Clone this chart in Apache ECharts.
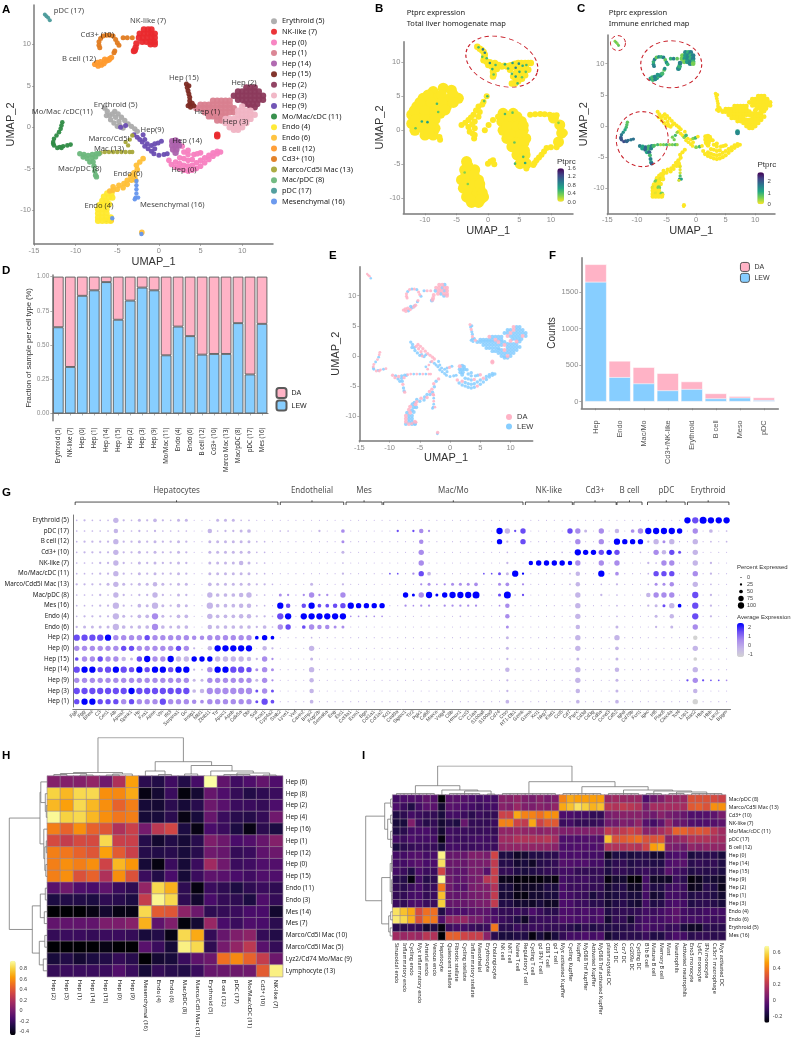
<!DOCTYPE html>
<html>
<head>
<meta charset="utf-8">
<title>Liver UMAP panels</title>
<script src="https://cdn.jsdelivr.net/npm/echarts@6/dist/echarts.min.js"></script>
<style>
  html, body { margin: 0; padding: 0; background: #fff; }
  #chart { width: 791px; height: 1043px; }
</style>
</head>
<body>
<div id="chart"></div>
<script>
const FONT = '"Noto Sans", sans-serif'
const HEAD = '"Liberation Sans", sans-serif'

// cell types, same order in the A legend and on the D axis
const clusterNames = ['Erythroid (5)', 'NK-like (7)', 'Hep (0)', 'Hep (1)', 'Hep (14)', 'Hep (15)', 'Hep (2)', 'Hep (3)', 'Hep (9)', 'Mo/Mac/cDC (11)', 'Endo (4)', 'Endo (6)', 'B cell (12)', 'Cd3+ (10)', 'Marco/Cd5l Mac (13)', 'Mac/pDC (8)', 'pDC (17)', 'Mesenchymal (16)']
const clusterColors = ['#ababab', '#ea2a2e', '#f77fc0', '#d9808f', '#ad62ad', '#7c2a22', '#8c3a5c', '#f0b4c4', '#6a4db2', '#2e8b45', '#ffe92e', '#ffc038', '#ff9a2e', '#e07b20', '#a8a83a', '#6cb77c', '#4a9a9a', '#6495ed']
const clusterDotPx = [5.4, 6.4, 5.6, 6.4, 6.4, 5, 6.4, 6.4, 5, 4.6, 6.4, 5.6, 5.6, 5, 4.4, 5.4, 4, 4.4]

// UMAP cell positions
const ptsErythroid = [[-6.5,2.3],[-6.2,1.9],[-6.3,1.4],[-5.9,1.4],[-5.8,0.9],[-5.4,0.5],[-5,0.1],[-4.7,0.2],[-4.3,-0.1],[-5.3,1.9],[-4.9,1.6],[-4.5,1.2],[-4.1,0.8],[-3.7,0.4],[-3.3,0.1],[-2.9,-0.2],[-2.6,-0.5],[-5.6,1.6],[-5.2,1.2],[-4.8,0.7]]
const ptsNK = [[-1.8,11.8],[-1.3,11.8],[-0.9,11.8],[-2.3,11.3],[-1.8,11.3],[-1.3,11.3],[-0.9,11.3],[-0.5,11.3],[-2.4,10.8],[-1.9,10.8],[-1.4,10.8],[-0.9,10.8],[-0.5,10.8],[-2,10.3],[-1.5,10.3],[-1,10.3],[-0.5,10.3],[-1,10],[-0.5,10],[-2.9,9.3],[-3,9.2],[-2.8,9.6],[-2.7,10.1],[-5.8,-11.2],[7,-0.9],[7,-1.1]]
const ptsHep0 = [[1.2,-4],[1.5,-4.5],[2,-4.8],[2.5,-5],[3,-5.2],[3.5,-5.3],[4,-5.2],[4.5,-5],[5,-4.7],[5.5,-4.3],[6,-3.9],[6.5,-3.5],[7,-3.2],[7.4,-3],[2,-4.2],[2.5,-4.4],[3,-4.6],[3.5,-4.7],[4,-4.6],[4.5,-4.3],[5,-4],[5.5,-3.7],[6,-3.4],[6.5,-3.1],[7,-2.9],[2.5,-3.7],[3,-3.8],[3.5,-4],[4,-3.9],[3,-3],[3.5,-2.8],[2.8,-2.3],[3.5,-3.3],[4.2,-3.3],[4.6,-3.2],[5,-3.1]]
const ptsHep1 = [[6.5,3.2],[7,3.2],[7.5,3.2],[8,3.2],[8.5,3.2],[5,2.7],[5.5,2.7],[6,2.7],[6.5,2.7],[7,2.7],[7.5,2.7],[8,2.7],[8.5,2.7],[4.5,2.3],[5,2.3],[5.5,2.3],[6,2.3],[6.5,2.3],[7,2.3],[7.5,2.3],[8,2.3],[8.5,2.3],[9,2.3],[5.5,1.8],[6,1.8],[6.5,1.8],[7,1.8],[7.5,1.8],[8,1.8],[8.5,1.8],[9,1.8],[6,1.3],[6.5,1.3],[7,1.3],[7.5,1.3],[8,1.3],[7,0.8],[7.5,0.8]]
const ptsHep14 = [[1.6,-1.7],[2,-1.6],[2.3,-1.8],[1.6,-2.2],[2,-2.2],[2.4,-2.2],[1.7,-2.7],[2.1,-2.7],[2,-3.1]]
const ptsHep15 = [[3.3,5.2],[3.6,5],[3.4,4.8],[3.5,4.4],[3.6,4],[3.7,3.6],[3.7,3.2],[3.7,2.8],[3.8,2.4],[4.2,2.6],[3.5,2.6],[4,2.9]]
const ptsHep2 = [[10.5,4.8],[11,4.8],[11.5,4.8],[9.5,4.3],[10,4.3],[10.5,4.3],[11,4.3],[11.5,4.3],[12,4.3],[9,3.8],[9.5,3.8],[10,3.8],[10.5,3.8],[11,3.8],[11.5,3.8],[12,3.8],[12.5,3.8],[9.5,3.3],[10,3.3],[10.5,3.3],[11,3.3],[11.5,3.3],[12,3.3],[12.5,3.3],[10.3,2.8],[10.8,2.8],[11.3,2.8],[11.8,2.8],[11,2.4],[11.5,2.4]]
const ptsHep3 = [[10,2.5],[9.5,2],[10,2],[10.5,2],[11,2],[9.5,1.5],[10,1.5],[10.5,1.5],[11,1.5],[11.5,1.5],[8,1],[8.5,1],[9,1],[9.5,1],[10,1],[10.5,1],[11,1],[8,0.5],[8.5,0.5],[9,0.5],[9.5,0.5],[10,0.5],[10.5,0.5],[8.5,0],[9,0],[9.5,0],[10,0],[9,-0.3],[9.5,-0.3]]
const ptsHep9 = [[-3,-0.9],[-2.6,-1.2],[-2.3,-1.5],[-2,-1.8],[-1.7,-1.5],[-1.4,-2],[-1.7,-2.3],[-1.3,-2.6],[-0.9,-2.2],[-0.5,-2],[-0.1,-1.9],[0.3,-1.7],[-0.9,-2.9],[-0.5,-2.6],[-0.6,-3.2],[0,-3.4],[0.6,-3.3],[1,-3.2],[-1.9,-0.9],[-4,0.2],[-4.6,0]]
const ptsMoMac = [[-11.6,0.6],[-11.7,0.2],[-11.8,-0.2],[-12,-0.6],[-12.3,-1],[-12.6,-1.4],[-12.7,-1.8],[-12.6,-2.2],[-12.2,-2.5],[-11.9,-2.4],[-11.5,-2.3],[-11,-2.2],[-10.6,-2.1],[-11.7,-2.5],[-12.7,-2],[-6.3,-11.2]]
const ptsEndo4 = [[-5.7,-8],[-6.2,-8],[-6.6,-8.4],[-6,-8.5],[-5.6,-8.5],[-6.8,-8.9],[-6.3,-9],[-7.1,-9.4],[-6.6,-9.4],[-6,-9.3],[-7.3,-9.9],[-6.8,-9.9],[-6.3,-9.9],[-7.3,-10.4],[-6.8,-10.4],[-6.3,-10.4],[-7.3,-10.9],[-6.8,-10.9],[-6.3,-10.9],[-5.8,-10.9],[-7.3,-11.3],[-6.8,-11.3],[-6.3,-11.3],[-5.8,-11.3]]
const ptsEndo6 = [[-1.9,-3.8],[-2.3,-4.2],[-2.7,-4.6],[-2.6,-5.1],[-3,-5.5],[-2.9,-6],[-3.4,-5.9],[-3.8,-6.4],[-3.3,-6.4],[-2.8,-6.4],[-4.2,-6.8],[-3.8,-6.9],[-5.5,-7.2],[-4.8,-7],[-4.3,-7.3],[-5,-7.5],[-5.5,-7.6],[-5.9,-7.7],[-2.05,-12.7]]
const ptsBcell = [[-7.7,7.6],[-7.3,7.4],[-6.9,7.5],[-6.6,7.7],[-6.3,8],[-6,8.1],[-5.9,8.3],[-7.4,7.8],[-7,7.9],[-6.5,8.2],[-5.7,8.4]]
const ptsCd3 = [[-7.2,9.9],[-7.2,10.3],[-7,10.7],[-6.7,11],[-6.3,11.1],[-5.9,11.1],[-5.5,11],[-5.2,10.6],[-5,10.2],[-4.8,9.9],[-7.1,9.6],[-5.4,9],[-5.3,9.2],[-4.3,10.8],[-3.8,10.8],[-3.2,10.8]]
const ptsMarco = [[-7,-3.1],[-6.5,-3],[-6,-3],[-5.5,-3],[-5,-3],[-4.5,-3],[-4,-3],[-3.5,-3],[-3.2,-3],[-4,-1.8],[-3.5,-1.5],[-3.2,-1],[-3.7,-2.2]]
const ptsMacpDC = [[-9.5,-3.2],[-9,-3.3],[-8.5,-3.4],[-8,-3.3],[-7.5,-3.2],[-9.1,-3.6],[-8.6,-3.8],[-8,-3.7],[-7.6,-3.6],[-8.3,-4.2],[-7.9,-4.2],[-7.8,-4.7],[-7.7,-5.3],[-7.6,-5.8],[-7.5,-6],[-7.2,-3.2]]
const ptsPDC = [[-13.7,13.6],[-13.5,13.4],[-13.3,13.2],[-13.1,12.9]]
const ptsMes = [[-2.7,-6.5],[-2.7,-7],[-2.7,-7.5],[-2.7,-8],[-2.8,-8.5],[-2.5,-8.5],[-2.9,-8.7],[-2.1,-12.9],[-5.6,-11]]
const clusterPoints = [ptsErythroid, ptsNK, ptsHep0, ptsHep1, ptsHep14, ptsHep15, ptsHep2, ptsHep3, ptsHep9, ptsMoMac, ptsEndo4, ptsEndo6, ptsBcell, ptsCd3, ptsMarco, ptsMacpDC, ptsPDC, ptsMes]

// text labels on the A map
const aLabelText = ['pDC (17)', 'NK-like (7)', 'Cd3+ (10)', 'B cell (12)', 'Hep (15)', 'Hep (2)', 'Hep (1)', 'Hep (3)', 'Erythroid (5)', 'Mo/Mac /cDC(11)', 'Hep(9)', 'Hep (14)', 'Marco/Cd5l', 'Mac (13)', 'Mac/pDC (8)', 'Endo (6)', 'Hep (0)', 'Mesenchymal (16)', 'Endo (4)']
const aLabelX = [-10.8, -1.3, -7.4, -9.6, 3, 10.2, 5.8, 9.2, -5.2, -11.6, -0.8, 3.4, -6, -6, -9.5, -3.7, 3, 1.6, -7.2]
const aLabelY = [14, 12.8, 11.2, 8.3, 6, 5.3, 1.9, 0.6, 2.7, 1.8, -0.3, -1.6, -1.4, -2.6, -5, -5.6, -5.2, -9.4, -9.5]

// Ptprc in panel C, by cluster, in point order (repeats over the cluster)
const ptprcByCluster = [[0], [1.5,1,1.6,0.6,1.3], [0], [0], [0], [0], [0], [0], [0,0,0,0.5,0.9,0], [0.7,0.8,0.9,1.1,1.4,1.7,1.9,2.1,2.2,2,1.8,1.7,1.8,1.9,2.1,0.6], [0,0,0,0.1,0,0.6,0], [0], [1.3,0.9,1.6], [1.4,1,1.6,0.7], [0.6,0.9,0.4], [1.6,1.2,1.9,0.9], [0.5,0.7], [0.1,0.1,0.2,0.8,1.4,1.2,0.2,0,0]]

// panel B, the total homogenate map
const bBlobLarge = [[-7.1,6.2],[-5.8,5.9],[-8.7,5.7],[-10.3,4.7],[-8.1,4.7],[-6,4.7],[-4.7,4.7],[-11.3,3.5],[-9.7,3.5],[-8.1,3.5],[-6.6,3.5],[-12.1,2.3],[-10.8,2.3],[-9.2,2.3],[-7.6,2.5],[-12.1,1],[-10.8,1],[-9.2,1.3],[-11.6,0],[-10,0],[-8.4,0.3],[-10,-0.7],[-8.7,-0.7],[-9.5,5.2],[-7.4,5.2],[-5.5,5.2],[-10.8,4.1],[-9,4.1],[-7.3,4.1],[-5.5,4.1],[-11.7,2.9],[-10,2.9],[-8.4,2.9],[-6.8,3],[-11.5,1.6],[-10,1.6],[-8.4,1.6],[-11.2,0.6],[-9.2,0.6],[-9.4,-0.4],[2.4,2.5],[4,2.5],[2.2,1.3],[3.8,1.3],[5.3,1.3],[2.4,0],[4,0],[5.6,0],[3,-1.2],[4.6,-1.2],[6,-1.2],[3.8,-2.4],[5.3,-2.4],[4.6,-3.6],[5.9,-3.6],[5.1,-4.9],[6.1,-4.9],[3.2,2],[4.6,2],[3,0.6],[4.6,0.6],[5.6,0.7],[3.5,-0.6],[5.2,-0.6],[4.5,-1.8],[5.7,-1.8],[4.9,-3],[5.8,-3],[5.5,-4.2],[10.4,1.8],[11.4,0.8],[11.7,-0.4],[11.2,-1.7],[-3.4,-4.6],[-2.9,-5.8],[-3.7,-5.8],[-2.1,-5.8],[-4.2,-7.3],[-2.9,-7.3],[-1.5,-7.3],[-3.9,-8.5],[-2.6,-8.5],[-1.3,-8.5],[-3.4,-9.8],[-2.1,-9.8],[-0.7,-9.8],[-2.6,-10.6],[-1.5,-10.6],[-3.2,-5.2],[-3.5,-6.5],[-2.2,-6.5],[-3.5,-7.9],[-2.2,-7.9],[-1.3,-7.9],[-3,-9.2],[-1.7,-9.2],[-0.9,-9.2],[-2.8,-10.2],[-1.2,-10.2]]
const bBlobThin = [[-0.2,5],[-0.7,4.2],[-1.5,3.5],[-1.3,2.7],[-2.3,2.3],[-1.5,2],[-3.1,1.5],[-2.1,1.3],[-4.2,0.8],[-3.1,0.5],[-2.1,0.3],[-2.9,-0.2],[-2.1,-0.7],[-2.2,-1.2],[-1.9,2.9],[-2.7,1.9],[-3.6,1.1],[-2.5,0.9],[-0.9,3.8],[-2.4,-0.5],[-0.5,0],[0.1,0.8],[0.8,1.5],[1.6,2],[6.7,2.3],[7.5,2.35],[8.3,2.4],[9,2.35],[9.8,2.3],[10.3,2.1],[10.9,2.2],[10.9,-2.5],[10,-2.5],[9.3,-2.6],[8.9,-3.1],[8.5,-3.6],[8.1,-4],[7.7,-4.4],[7.4,-4.8],[7.2,-5.1],[0,-4.9],[0.8,-4.4],[0.4,-4.6],[1,-5],[-7.6,-1.4],[-7.7,-1],[12.2,-0.4],[6.1,-5.6]]
const bImmune = [[-1.7,12.3],[-1,11.8],[-0.5,11.1],[-0.7,10.3],[-0.2,10.1],[0.05,9.6],[0.6,9.4],[1.1,9.9],[0.8,8.6],[1.4,9],[2.2,9.4],[3,9.4],[3.8,9.6],[4.8,9.9],[5.9,9.9],[6.8,9.9],[3.5,8.9],[4.6,8.9],[5.6,9.1],[6.4,8.9],[4,7.9],[5.1,8.1],[5.9,8.1],[3.8,6.9],[4.8,7.2],[0.8,7.9],[-1.3,12],[-0.7,11.5],[-0.6,10.7],[0.3,10],[1.7,9.6],[2.6,9.5],[3.4,9.5],[4.3,9.8],[5.3,9.9],[6.4,9.9],[4,9.3],[5,9.4],[6,9.4],[4.4,8.4],[5.4,8.6],[4.4,7.5],[5.4,7.6],[4.3,6.9],[0.9,8.2],[1.1,9.1]]
const bSpecks = [[-1.5,12.2,0.5],[-0.8,11.9,1],[-0.5,11.4,0.9],[-0.9,10.8,0.4],[-0.2,10.6,0.5],[0.3,9.9,0.8],[0.7,9,0.6],[1.2,9.6,0.5],[0.9,8.2,0.4],[2.7,9.7,0.6],[3.2,9.1,0.5],[3.9,9.9,0.7],[4.4,9.2,0.9],[4.9,9.8,0.8],[5.5,9.5,0.6],[6.1,9.6,0.5],[3.8,8.3,0.5],[4.4,7.9,0.7],[5,8.6,0.6],[5.4,7.8,0.4],[4.7,6.9,0.5],[6,8.6,0.4],[-0.1,5,0.5],[-0.6,4.3,0.4],[-10.5,1.3,0.6],[-9.6,1.2,0.7],[-11.5,0.3,0.4],[-8.1,3.9,0.5],[-7.9,2.7,0.4],[2.7,2.4,0.5],[3.9,2.6,0.4],[4.2,-1.8,0.4],[5.6,-3.9,0.5],[4.3,-4.9,0.5],[5.9,-4.8,0.6],[-3.2,-7.9,0.3],[-3.7,-6.2,0.3],[11.2,1.1,0.3]]

// dashed rings, [x, y]
const bRing = [[2.2, 10.1]]
const cRingSmall = [[-13.2, 13.3]]
const cRingTop = [[-4.2, 9.9]]
const cRingLeft = [[-9.1, -2.1]]

// panel D, fraction of LEW by cell type
const dCategories = ['Erythroid (5)', 'NK-like (7)', 'Hep (0)', 'Hep (1)', 'Hep (14)', 'Hep (15)', 'Hep (2)', 'Hep (3)', 'Hep (9)', 'Mo/Mac (11)', 'Endo (4)', 'Endo (6)', 'B cell (12)', 'Cd3+ (10)', 'Marco Mac (13)', 'Mac/pDC (8)', 'pDC (17)', 'Mes (16)']
const dLew = [0.63, 0.34, 0.86, 0.9, 0.96, 0.685, 0.825, 0.92, 0.9, 0.425, 0.635, 0.565, 0.43, 0.435, 0.435, 0.66, 0.285, 0.655]

// panel F, counts
const fCategories = ['Hep', 'Endo', 'Mac/Mo', 'Cd3+/NK-like', 'Erythroid', 'B cell', 'Meso', 'pDC']
const fLew = [1640, 336, 250, 155, 173, 45, 55, 23]
const fDa = [240, 223, 223, 236, 104, 69, 22, 36]

// panel G, dot plot
const dotGenes = ['Fgb','Fgg','Bhmt','C3','Ces1','Alb','Apoa2','Spink1','Hp','Fxa1','Apoe','Vtn','Ifit3','Serpina1','Gc','Insig1','Mbl1','Zbtb11','Ttr','Apoc1','Apob','Cdk5a','Dbi','Scd','Acat1','Cyp4a2','Stab2','Lyve1','Vwf','Cavin2','Bmp2','Fcgr2b','Sema6a','Eng','Ets1','Col3a1','Ecm1','Bgn','Col1a1','Col1a2','Xcl1','Ced9a','Siglec1','Tlr2','Pgk1','Cd68','Marco','Vsig4','C8b','Hmox1','Cxcl3','C1qa','S100a8','S100a9','Cd74','Ctss','RT1-Db1','Gzmk','Gzma','Xcl1','Nkg7','Klrd1','Ccl5','Cd7','Ptprc','Cd3d','Cd3g','Cd8a','Ccnd3','Cd52','Ighd','Cd79b','Fcrl1','Igkc','Irf8','Plac8','Clec4a','Tcf4','Lsp1','Alas2','Hba','Hbb','Lars2','Bpgm']
const dotRows = ['Erythroid (5)', 'pDC (17)', 'B cell (12)', 'Cd3+ (10)', 'NK-like (7)', 'Mo/Mac/cDC (11)', 'Marco/Cdd5l Mac (13)', 'Mac/pDC (8)', 'Mes (16)', 'Endo (4)', 'Endo (6)', 'Hep (2)', 'Hep (0)', 'Hep (15)', 'Hep (14)', 'Hep (9)', 'Hep (3)', 'Hep (1)']
// per row, by gene block (hep endo mes mac nk cd3 b pdc ery), '.' = nothing read: percent expressed / 11
const dotPctRows = [
  '12111621324213300033311000 . . . . . . . 778777',
  '11111511212111100512234000 110002004 . 020252000000007626 000006 630605 046 77776 060401',
  '12222622323223200333333110 000000003 . 000050000000006206 . 600607 666 26360 060101',
  '12222622323223200333333110 000000003 . 000060000000000100 000010 766666 001 06563 060000',
  '11122621323223200333353110 000000001 . 000060000000000200 566665 600606 . 21660 060200',
  '11122621323223200333333110 000000002 . 110264000000113372 000001 500704 . 16660 060200',
  '22223632335323300433333221 000030002 . 000023123334003402 000001 500102 . 13350 060100',
  '11121621226213200644456110 320262206 . 006367367778003812 . 600201 . 56660 070200',
  '11122721437324300744455110 750574456 76666 002122022222001500 . 600001 . 23364 070200',
  '12222732447324400644455221 770777777 11111 000000000100000500 . 600001 . 03050 070200',
  '23333743447434400544444241 660465533 . 000000000000000300 . 500003 . 02030 060000',
  '77777666666666655666666464 000010000 . 000000000000000300 . 600006 . . 050000',
  '66666666666666620577777052 000060000 . 000000000000000300 . 600004 . . 060000',
  '46666653676676666666665262 000030000 . 000000000000000200 . 300003 . . 040000',
  '77767776767767721677776363 000060000 . 000000000000000500 . 600005 . . 060000',
  '66666666666666633666666362 000050000 . 000000000000000200 . 600003 . . 262111',
  '77777777777777745777777363 000050000 . 000000000000000200 . 500003 . . 050000',
  '67766666666766654666666374 000040000 . 000000000000000400 . 400004 . . 060000'
]
// same shape: average expression level 0 (grey) to 4 (blue)
const dotExprRows = [
  '. . . . . . . . 434444',
  '. 111111112 . 131322111111114133 111113 211211 122 44444 121111',
  '. 111111112 . 111121111111114113 . 211214 444 11212 .',
  '. . . 111121111111111111 . 444343 . 12133 .',
  '. . . 111121111111111111 444444 211212 . 11222 .',
  '. . . 331231111111333144 . 111412 . 13331 121111',
  '. . . 111122222222112212 . . . 12221 .',
  '. 222222222 . 114424444444113413 . . . 12222 131111',
  '. 431343333 44444 112222122222112211 . . . 11314 131111',
  '11111111112111111111111111 341444444 22222 111111111111111211 . . . . 131111',
  '11111111112111111111111111 231322222 . 111111111111111211 . . . . 121111',
  '33334222232222222222222444 . . . . . . . 101111',
  '22222233222223210144444011 . . . . . . . .',
  '32232211342241144411111122 . . . . . . . 101111',
  '34433433434434411244333222 . . . . . . . .',
  '22222222222222211222222122 . . . . . . . 323332',
  '33333334333333311222222323 . . . . . . . .',
  '34433323222322222222222333 . . . . . . . 101111'
]
const dotBlockSizes = [26, 9, 5, 18, 6, 6, 3, 5, 6]
const exprLevels = [-1.3, -0.35, 0.6, 1.55, 2.5]
const dotSizes = [1.1, 1.7, 2.3, 3, 3.7, 4.5, 5.4, 6.3, 7, 7.5]
const pctLegend = ['0', '25', '50', '75', '100']
const pctLegendLevel = [0, 2, 4, 6, 7]
const groupNames = ['Hepatocytes', 'Endothelial', 'Mes', 'Mac/Mo', 'NK-like', 'Cd3+', 'B cell', 'pDC', 'Erythroid']
const groupFrom = [-0.2, 26, 34.4, 39.2, 57.3, 63.5, 69, 72.9, 78]
const groupTo = [25.7, 34.1, 39, 57, 63.3, 68.9, 72.2, 77.7, 83.3]

// panel H, correlation heatmap
const hCols = ['Hep (2)', 'Hep (3)', 'Hep (1)', 'Hep (14)', 'Hep (15)', 'Hep (0)', 'Hep (9)', 'Mesenchymal (16)', 'Endo (4)', 'Endo (6)', 'Mac/pDC (8)', 'Marco/Cd5l Mac (13)', 'Erythroid (5)', 'B cell (12)', 'pDC (17)', 'Mo/Mac/cDC (11)', 'Cd3+ (10)', 'NK-like (7)']
const hRows = ['Hep (6)', 'Hep (8)', 'Hep (2)', 'Hep (4)', 'Hep (16)', 'Hep (1)', 'Hep (12)', 'Hep (0)', 'Hep (15)', 'Endo (11)', 'Endo (3)', 'Mes (14)', 'Mes (7)', 'Marco/Cd5l Mac (10)', 'Marco/Cd5l Mac (5)', 'Lyz2/Cd74 Mo/Mac (9)', 'Lymphocyte (13)']
const hValues = [
  [.05,.05,.05,.1,-.02,.2,.65,-.25,-.28,-.18,-.28,-.16,.95,-.07,-.18,-.13,-.06,-.13],
  [.8,.72,.82,.82,.6,.58,.68,-.42,-.34,-.2,-.44,-.34,-.05,-.13,-.22,-.28,-.24,-.2],
  [.72,.65,.82,.72,.6,.45,.55,-.33,-.34,-.25,-.33,-.26,-.03,-.1,-.2,-.2,-.22,-.14],
  [.93,.8,.82,.72,.6,.52,.55,-.33,-.32,-.25,-.42,-.32,-.05,-.2,-.26,-.27,-.22,-.02],
  [.55,.45,.6,.45,.4,.2,.3,0,.25,.33,-.3,-.42,-.15,-.2,-.3,-.42,-.25,-.3],
  [.35,.28,.35,.35,.82,.3,.3,-.27,-.35,-.28,-.33,-.26,.03,-.03,-.15,-.12,-.05,.05],
  [.55,.52,.45,.4,.65,.42,.3,-.27,-.28,-.26,-.32,-.26,-.02,-.05,-.22,-.2,-.08,-.03],
  [.55,.6,.55,.6,.32,.72,.62,-.33,-.43,-.2,-.33,-.2,.15,-.02,-.2,-.18,-.13,-.12],
  [.55,.6,.38,.45,.2,.6,.38,-.2,-.28,-.15,-.33,-.2,-.08,-.1,-.15,-.18,-.13,-.13],
  [-.1,-.02,-.13,-.15,-.08,-.2,-.24,.1,.82,.7,-.24,-.43,-.2,-.24,-.3,-.24,-.2,-.24],
  [-.3,-.28,-.28,-.3,-.24,-.26,-.3,.28,.92,.82,-.24,-.35,-.15,-.22,-.24,-.3,-.13,-.22],
  [-.46,-.46,-.46,-.42,-.35,-.42,-.42,.82,.42,.4,.08,-.03,-.24,-.22,-.2,-.15,-.15,-.35],
  [-.07,-.07,-.07,-.07,.02,.02,.06,.7,-.08,.03,-.44,-.34,.12,-.15,-.2,-.13,-.15,-.25],
  [-.22,-.2,-.2,-.22,-.2,-.2,-.22,-.32,-.28,-.42,.82,.68,-.22,-.05,.03,.08,-.22,-.28],
  [-.46,-.46,-.46,-.46,-.42,-.46,-.46,-.1,-.2,-.33,.9,.82,-.24,0,.1,.25,-.1,-.22],
  [-.32,-.28,-.34,-.3,-.28,-.22,-.26,-.46,-.34,-.32,-.2,-.08,-.03,.5,.58,.45,.28,-.03],
  [-.22,-.2,-.2,-.2,-.2,-.12,-.2,-.33,-.22,-.26,-.28,-.2,-.05,-.04,-.03,-.02,.42,.9]
]
// trees: [height, child, child...], a plain number is a leaf
const hColTree = [38.3, [3.5, [2.5, [1.5,0,1], [1,2,3]], [2, [1,4,5], 6]], [14.3, [5, 7, [1.5,8,9]], [10.5, [2,10,11], [5, 12, [3, [1.5,13,14,15], [1,16,17]]]]]]
const hRowTree = [38, [7.3, [6.5, 0, [2, 1, [1,2,3]]], [3.5, 4, [2.5, [1,5,6], [1.5,7,8]]]], [15, [7, [2,9,10], [3,11,12]], [8, [2.5,13,14], [4,15,16]]]]

// panel I, reference atlas correlation
const iCols = ['Sinusoidal endo', 'Inflammatory endo', 'Cycling endo', 'Myc inflammatory endo', 'Arterial endo', 'Venous endo', 'Hepatocyte', 'Quiescent stellate', 'Fibrotic stellate', 'Cycling stellate', 'Inflammatory stellate', 'Mesothelial', 'Erythrocyte', 'Cholangiocyte', 'NK cell', 'NKT cell', 'Naive T cell', 'Regulatory T cell', 'Cycling T cell', 'gd IFN T cell', 'CD8 T cell', 'gd T cell', 'Myc activated Kupffer', 'Cycling Kupffer', 'Kupffer', 'MyD88 Tnf Kupffer', 'Activated Kupffer', 'MyD88 Tnf activated Kupffer', 'plasmacytoid DC', 'Xcr1 DC', 'Ccr7 DC', 'Cd209a DC', 'Cycling DC', 'B1b B cell', 'Mature B cell', 'Memory B cell', 'Mast', 'Neutrophils', 'Activated neutrophils', 'Eno3 monocyte', 'Ly6C monocyte', 'IFN monocyte', 'Cx3cr1 macrophage', 'Myc activated DC']
const iRows = ['Mac/pDC (8)', 'Marco/Cd5l Mac (13)', 'Cd3+ (10)', 'NK-like (7)', 'Mo/Mac/cDC (11)', 'pDC (17)', 'B cell (12)', 'Hep (0)', 'Hep (14)', 'Hep (15)', 'Hep (9)', 'Hep (2)', 'Hep (1)', 'Hep (3)', 'Endo (4)', 'Endo (6)', 'Erythroid (5)', 'Mes (16)']
const iValues = [
  [-8,-6,-5,-5,-1,-4,-28,-3,-3,-4,-6,-8,-7,-8,8,8,10,6,4,8,4,6,42,50,48,48,48,48,12,14,12,12,12,-6,2,6,12,12,12,30,30,30,28,25],
  [-6,-10,-16,-8,-3,-3,-20,-3,-4,-6,-8,-10,-8,-8,8,6,12,6,5,8,6,10,50,55,62,58,52,55,20,18,22,20,18,4,15,15,15,15,15,32,34,30,45,45],
  [-16,-13,-8,-10,-12,-12,-18,-8,-8,-10,-14,-10,-12,-12,25,25,50,42,42,38,45,45,-6,-6,-8,-8,-12,-12,4,6,8,8,8,4,2,8,4,2,0,-5,-5,-4,-2,4],
  [-18,-18,6,-10,-15,-12,-20,-15,-17,0,-12,-12,-12,-10,42,42,25,22,50,25,32,32,-10,-8,-12,-12,-12,-10,2,2,6,4,10,-4,-8,-2,10,0,0,-5,-6,-5,-4,-2],
  [-16,-14,-8,-7,-7,-10,-20,-9,-10,-10,-11,-11,-10,-12,10,10,12,10,10,8,10,10,6,6,6,6,8,8,22,18,22,26,22,8,10,15,20,35,35,30,32,30,20,14],
  [-8,-10,-6,-8,-8,-8,-26,-8,-10,-10,-9,-8,-9,-10,14,14,18,18,18,18,20,15,-6,-5,-6,-5,-4,-5,55,30,32,35,38,30,30,32,8,10,12,18,18,18,16,14],
  [-17,-14,-12,-10,-11,-11,-18,-8,-8,-10,-10,-9,-9,-10,10,10,10,10,10,10,10,8,-6,-6,-5,-5,-6,-4,18,18,18,20,18,26,48,52,6,4,2,10,8,10,10,10],
  [-8,-8,-5,-4,-8,-7,66,0,0,0,6,6,4,26,-17,-17,-22,-20,-16,-16,-14,-14,-6,-7,-6,-8,-8,-8,-23,-17,-16,-18,-16,-15,-20,-20,-8,-6,-5,-18,-15,-14,-14,-18],
  [-8,-8,-5,-3,-7,-6,62,1,1,0,4,4,5,22,-15,-15,-20,-18,-22,-15,-14,-12,-4,-5,-6,-5,-8,-8,-17,-13,-12,-16,-14,-14,-16,-16,-6,-4,-3,-14,-12,-13,-12,-16],
  [-8,-10,-16,-6,-10,-10,26,0,-2,-2,4,4,-4,24,-12,-12,-16,-18,-16,-14,-12,-12,-8,-8,-12,-12,-12,-11,-17,-12,-12,-15,-13,-10,-14,-13,-3,-8,-10,-16,-14,-15,-14,-17],
  [-14,-15,-26,-8,-15,-13,68,2,-2,-1,3,5,20,24,-24,-24,-27,-27,-27,-27,-24,-27,-8,-10,-10,-9,-12,-12,-26,-20,-20,-28,-28,-8,-22,-22,-22,-10,-14,-27,-24,-18,-20,-22],
  [-12,-14,-10,-7,-12,-10,40,2,-3,-4,4,5,6,18,-18,-18,-24,-22,-22,-20,-16,-18,-7,-10,-10,-10,-12,-12,-20,-16,-15,-22,-22,-8,-16,-16,-10,-8,-10,-24,-22,-14,-16,-24],
  [-12,-12,-8,-7,-12,-10,55,0,-1,0,3,4,6,22,-19,-19,-25,-26,-20,-20,-18,-18,-7,-8,-10,-11,-18,-14,-19,-17,-15,-18,-18,-8,-20,-18,-8,-8,-10,-16,-14,-14,-16,-20],
  [-10,-12,-7,-6,-10,-10,58,0,0,0,2,4,5,22,-16,-16,-20,-20,-22,-18,-22,-22,-6,-7,-10,-10,-14,-14,-20,-16,-14,-18,-20,-8,-16,-15,-8,-6,-8,-16,-14,-13,-15,-18],
  [62,55,50,28,38,38,-16,-6,-6,-6,-3,-2,-2,-8,-12,-12,-10,-12,-6,-10,-14,-14,-6,-6,-8,-6,-8,-6,-16,-13,-12,-13,-12,-8,-10,-8,-5,-2,-8,-10,-10,-8,-8,-8],
  [64,60,52,30,42,40,-5,10,10,12,4,4,-2,-5,-10,-12,-16,-22,-12,-10,-10,-10,-5,-6,-7,-6,-8,-6,-20,-12,-12,-20,-10,-7,-8,-8,-5,-3,-8,-8,-8,-8,-10,-9],
  [-14,-14,-11,-12,-20,-16,-26,-10,-8,-8,-10,-12,-10,40,-14,-14,-10,-12,-10,-10,-12,-12,-12,-14,-17,-12,-16,-14,-16,-15,-15,-14,-10,-6,-9,-9,-12,-10,-18,-22,-22,-14,-14,-14],
  [14,12,14,12,20,18,-28,34,34,26,24,24,8,-14,-18,-18,-16,-16,-26,-18,-24,-18,-12,-8,-8,-6,-8,-6,-20,-16,-14,-14,-14,-10,-16,-16,-10,-6,-8,-14,-12,-12,-14,-13]
]
const iColTree = [29, [9.3, [1.5,0,1,2,3,4,5], [5, 6, [4, [1.5,7,8,9,10,11], [1,12,13]]]], [13.3, [1.5,14,15,16,17,18,19,20,21], [8.3, [1.5,22,23,24,25,26,27], [5, [1.5,28,29,30,31,32], [4, [1.5,33,34,35], [3, [1.5,36,37,38], [1.5,39,40,41,42,43]]]]]]]
const iRowTree = [27, [8, [2,0,1], [5, [2,2,3], [2,4,5,6]]], [11, [2.5, [1,7,8,9], [1,10,11,12,13]], [4, [2,14,15], [2.5,16,17]]]]

const VIRIDIS_R = ['#fde725', '#7ad151', '#22a884', '#2a788e', '#414487', '#440154']
const INFERNO = ['#000004', '#1b0c41', '#4a0c6b', '#781c6d', '#a52c60', '#cf4446', '#ed6925', '#fb9b06', '#f7d13d', '#fcffa4']
const DA_COLOR = '#ffb3c6'
const LEW_COLOR = '#87ceff'
const AXIS_GREY = '#7a7a7a'
const TICK_GREY = '#8a8a8a'

let grids = [], xAxes = [], yAxes = [], series = [], visualMaps = [], legends = [], titles = []

function addGrid(box, x, y) {
  let i = grids.length
  grids.push(Object.assign({ containLabel: false }, box))
  xAxes.push(Object.assign({ gridIndex: i, show: false, type: 'value' }, x))
  yAxes.push(Object.assign({ gridIndex: i, show: false, type: 'value' }, y))
  return i
}
function addSeries(s) {
  series.push(Object.assign({ silent: true, animation: false }, s))
  return series.length - 1
}
function greyAxis(min, max, ticks, extra) {
  return Object.assign({
    show: true, type: 'value', min: min, max: max,
    axisLine: { show: true, onZero: false, lineStyle: { color: AXIS_GREY, width: 1.5 } },
    axisTick: { show: true, customValues: ticks, length: 2, lineStyle: { color: AXIS_GREY, width: 0.6 } },
    axisLabel: { customValues: ticks, color: TICK_GREY, fontSize: 7.5, fontFamily: HEAD, margin: 3, formatter: v => String(v) },
    splitLine: { show: false }
  }, extra)
}
function axisName(name, gap, size) {
  return { name: name, nameLocation: 'middle', nameGap: gap, nameTextStyle: { color: '#333', fontSize: size || 11, fontFamily: HEAD } }
}
const xTicks = [-15, -10, -5, 0, 5, 10]
const yTicks = [-10, -5, 0, 5, 10]

// colour bar tick labels on a small axis next to the visualMap strip
function barTicks(left, top, height, min, max, ticks, size, fmt) {
  addGrid({ left: left, top: top, width: 1, height: height }, {}, {
    show: true, min: min, max: max, position: 'right',
    axisLine: { show: false }, axisTick: { show: false }, splitLine: { show: false },
    axisLabel: { customValues: ticks, color: '#444', fontSize: size, fontFamily: HEAD, margin: 2, formatter: fmt }
  })
}
function colorStrip(seriesIndex, dim, min, max, colors, left, top, width, height) {
  visualMaps.push({
    type: 'continuous', seriesIndex: seriesIndex, dimension: dim, min: min, max: max,
    inRange: { color: colors }, calculable: false, realtime: false, showLabel: false, text: null,
    left: left, top: top, itemWidth: width, itemHeight: height, padding: 0, hoverLink: false
  })
}
function ring(g, data, w, h, rot) {
  addSeries({
    type: 'scatter', xAxisIndex: g, yAxisIndex: g, data: data, symbol: 'circle', symbolSize: [w, h], symbolRotate: rot, z: 6,
    itemStyle: { color: 'rgba(0,0,0,0)', borderColor: '#c9202a', borderWidth: 1, borderType: [4, 3], opacity: 1 }
  })
}
function treeLines(tree, isRow) {
  let out = []
  function walk(n) {
    if (typeof n === 'number') return { pos: n + 0.5, h: 0 }
    let kids = n.slice(1).map(walk), h = n[0]
    let lo = Math.min(...kids.map(k => k.pos)), hi = Math.max(...kids.map(k => k.pos))
    kids.forEach(k => out.push([k.pos, k.h], [k.pos, h], ['-', '-']))
    out.push([lo, h], [hi, h], ['-', '-'])
    return { pos: (lo + hi) / 2, h: h }
  }
  walk(tree)
  return isRow ? out.map(p => [p[1], p[0]]) : out
}
function addTree(tree, n, box, isRow) {
  let top = tree[0]
  let g = isRow
    ? addGrid(box, { min: 0, max: top, inverse: true }, { min: 0, max: n, inverse: true })
    : addGrid(box, { min: 0, max: n }, { min: 0, max: top })
  addSeries({
    type: 'line', xAxisIndex: g, yAxisIndex: g, data: treeLines(tree, isRow), symbol: 'none', connectNulls: false,
    lineStyle: { color: '#777', width: 0.8 }
  })
}
function addHeat(box, cols, rows, values, scale, labelSize, nameSize) {
  let g = addGrid(box, {
    show: true, type: 'category', data: cols, position: 'bottom', axisLine: { show: false }, axisTick: { show: false },
    axisLabel: { interval: 0, rotate: -90, fontSize: labelSize, color: '#222', fontFamily: FONT, margin: 3 }
  }, {
    show: true, type: 'category', data: rows, inverse: true, position: 'right', axisLine: { show: false }, axisTick: { show: false },
    axisLabel: { interval: 0, fontSize: nameSize, color: '#222', fontFamily: FONT, margin: 3 }
  })
  let data = []
  rows.forEach((r, j) => cols.forEach((c, i) => data.push([i, j, values[j][i] * scale])))
  return addSeries({
    type: 'heatmap', xAxisIndex: g, yAxisIndex: g, data: data, progressive: 0,
    itemStyle: { borderColor: '#9a8a9a', borderWidth: 0.6 }
  })
}

// panel letters and headings
;[['A', 2, 4], ['B', 375, 3], ['C', 577, 3], ['D', 2, 265], ['E', 329, 250], ['F', 549, 250], ['G', 2, 487], ['H', 2, 750], ['I', 362, 750]].forEach(t => {
  titles.push({ text: t[0], left: t[1], top: t[2], padding: 0, textStyle: { fontSize: 11.5, fontWeight: 'bold', color: '#000', fontFamily: HEAD } })
})
;[['Ptprc expression\nTotal liver homogenate map', 406.7, 8], ['Ptprc expression\nImmune enriched map', 608.7, 8]].forEach(t => {
  titles.push({ text: t[0], left: t[1], top: t[2], padding: 0, textStyle: { fontSize: 7.5, fontWeight: 'normal', lineHeight: 10.5, color: '#222', fontFamily: FONT } })
})
;[['Ptprc', 557, 158, 8], ['Ptprc', 757.5, 161, 8], ['Percent Expressed', 737, 564, 6], ['Average Expression', 737, 614, 6]].forEach(t => {
  titles.push({ text: t[0], left: t[1], top: t[2], padding: 0, textStyle: { fontSize: t[3], fontWeight: 'normal', color: '#333', fontFamily: HEAD } })
})

// A: clusters
let gA = addGrid({ left: 34, top: 5, width: 239, height: 239 },
  greyAxis(-15, 13.7, xTicks, axisName('UMAP_1', 12.5)), greyAxis(-14.1, 14.75, yTicks, axisName('UMAP_2', 15)))
clusterNames.forEach((name, i) => {
  addSeries({ type: 'scatter', name: name, xAxisIndex: gA, yAxisIndex: gA, data: clusterPoints[i], symbolSize: clusterDotPx[i], itemStyle: { color: clusterColors[i], opacity: 0.95 } })
})
addSeries({
  type: 'scatter', xAxisIndex: gA, yAxisIndex: gA, symbolSize: 0, z: 5,
  data: aLabelText.map((t, i) => ({ value: [aLabelX[i], aLabelY[i]], name: t })),
  label: { show: true, position: 'inside', formatter: '{b}', color: '#111', fontSize: 7.6, fontFamily: FONT }
})
legends.push({
  data: clusterNames, orient: 'vertical', left: 271, top: 17, padding: 0, itemWidth: 6, itemHeight: 6, itemGap: 2.2,
  selectedMode: false, textStyle: { fontSize: 7.4, lineHeight: 8.4, color: '#222', fontFamily: FONT }
})

// B: homogenate map
const solid = c => ({ color: c, opacity: 1 })
let gB = addGrid({ left: 403.3, top: 41.7, width: 169.7, height: 171.6 },
  greyAxis(-13.44, 13.5, [-10, -5, 0, 5, 10], axisName('UMAP_1', 10.5)), greyAxis(-12.2, 13.03, yTicks, axisName('UMAP_2', 13)))
addSeries({ type: 'scatter', xAxisIndex: gB, yAxisIndex: gB, data: bBlobLarge, symbolSize: 11, itemStyle: solid(VIRIDIS_R[0]) })
addSeries({ type: 'scatter', xAxisIndex: gB, yAxisIndex: gB, data: bBlobThin, symbolSize: 6, itemStyle: solid(VIRIDIS_R[0]) })
addSeries({ type: 'scatter', xAxisIndex: gB, yAxisIndex: gB, data: bImmune, symbolSize: 6.5, itemStyle: solid(VIRIDIS_R[0]) })
let sB = addSeries({ type: 'scatter', xAxisIndex: gB, yAxisIndex: gB, data: bSpecks, symbolSize: 2.6, z: 4, itemStyle: { opacity: 1 } })
colorStrip(sB, 2, 0, 1.6, VIRIDIS_R, 557.3, 168.3, 6.7, 33.4)
barTicks(564.5, 168.3, 33.7, 0, 1.6, [0, 0.4, 0.8, 1.2, 1.6], 6, v => v.toFixed(1))
ring(gB, bRing, 74, 48, -18)

// C: immune enriched map, same cells as A
let gC = addGrid({ left: 607.3, top: 35, width: 167.7, height: 178.3 },
  greyAxis(-15, 13.33, xTicks, axisName('UMAP_1', 10.5)), greyAxis(-14, 14.6, yTicks, axisName('UMAP_2', 13)))
let cData = []
clusterPoints.forEach((pts, i) => {
  let levels = ptprcByCluster[i]
  pts.forEach((p, k) => cData.push([p[0], p[1], levels[k % levels.length], clusterDotPx[i] * 0.74]))
})
let sC = addSeries({ type: 'scatter', xAxisIndex: gC, yAxisIndex: gC, data: cData, symbolSize: v => v[3], itemStyle: { opacity: 1 } })
colorStrip(sC, 2, 0, 2.83, VIRIDIS_R, 757.3, 172.3, 6.7, 32)
barTicks(764.5, 172.3, 32, 0, 2.83, [0, 1, 2], 6)
ring(gC, cRingSmall, 15, 15, 0)
ring(gC, cRingTop, 61, 47, 0)
ring(gC, cRingLeft, 52, 55, 0)

// D: stacked fractions
let gD = addGrid({ left: 52.3, top: 275, width: 215.7, height: 145.7 }, {
  show: true, type: 'category', data: dCategories,
  axisLine: { show: true, lineStyle: { color: AXIS_GREY, width: 1.2 } },
  axisTick: { show: true, alignWithLabel: true, length: 2, lineStyle: { color: AXIS_GREY, width: 0.6 } },
  axisLabel: { interval: 0, rotate: 90, fontSize: 6.2, color: '#333', fontFamily: FONT, margin: 7 }
}, greyAxis(-0.053, 1.012, [0, 0.25, 0.5, 0.75, 1], axisName('Fraction of sample per cell type (%)', 19, 7.6)))
yAxes[gD].axisLabel.formatter = v => v.toFixed(2)
yAxes[gD].axisLabel.fontSize = 6.5
const dBarStyle = c => ({ color: c, borderColor: '#5a5a5a', borderWidth: 0.9 })
addSeries({ type: 'bar', name: 'LEW', xAxisIndex: gD, yAxisIndex: gD, stack: 'd', barWidth: 10.7, data: dLew, itemStyle: dBarStyle(LEW_COLOR) })
addSeries({ type: 'bar', name: 'DA', xAxisIndex: gD, yAxisIndex: gD, stack: 'd', barWidth: 10.7, data: dLew.map(v => +(1 - v).toFixed(3)), itemStyle: dBarStyle(DA_COLOR) })
legends.push({
  data: ['DA', 'LEW'], orient: 'vertical', left: 275.5, top: 387, padding: 0, itemWidth: 10, itemHeight: 10, itemGap: 0.6,
  selectedMode: false, textStyle: { fontSize: 7, color: '#222', fontFamily: HEAD }
})

// E: same map by strain, split by each cluster's LEW share
let eLew = [], eDa = []
clusterPoints.forEach((pts, i) => {
  pts.forEach((p, k) => {
    let isLew = i === 0 ? k < 9 : Math.floor((k + 1) * dLew[i]) > Math.floor(k * dLew[i])
    ;(isLew ? eLew : eDa).push([p[0], p[1], clusterDotPx[i] * 0.62])
  })
})
let gE = addGrid({ left: 359.3, top: 266.7, width: 173.4, height: 174 },
  greyAxis(-15, 13.66, xTicks, axisName('UMAP_1', 11)), greyAxis(-14.05, 14.8, yTicks, axisName('UMAP_2', 13)))
addSeries({ type: 'scatter', name: 'LEW', xAxisIndex: gE, yAxisIndex: gE, data: eLew, symbolSize: v => v[2], itemStyle: { color: LEW_COLOR, opacity: 0.85, borderWidth: 0 } })
addSeries({ type: 'scatter', name: 'DA', xAxisIndex: gE, yAxisIndex: gE, data: eDa, symbolSize: v => v[2], itemStyle: { color: DA_COLOR, opacity: 0.85, borderWidth: 0 } })
legends.push({
  data: [{ name: 'DA', icon: 'circle' }, { name: 'LEW', icon: 'circle' }], orient: 'vertical', left: 506, top: 413, padding: 0,
  itemWidth: 6, itemHeight: 6, itemGap: 1.5, selectedMode: false, itemStyle: { borderWidth: 0 },
  textStyle: { fontSize: 7.5, color: '#333', fontFamily: HEAD }
})

// F: counts; the whole bar goes behind, LEW in front
let fTicks = fCategories.map((c, i) => i)
let gF = addGrid({ left: 581.3, top: 257.7, width: 197, height: 150.6 },
  greyAxis(-0.6, 7.6, fTicks, {}), greyAxis(-90, 1970, [0, 500, 1000, 1500], axisName('Counts', 19, 10)))
xAxes[gF].axisLabel = { customValues: fTicks, interval: 0, rotate: 90, fontSize: 7.4, color: '#555', fontFamily: HEAD, margin: 12, formatter: v => fCategories[v] }
const fBarStyle = c => ({ color: c, borderColor: '#fff', borderWidth: 0.6 })
addSeries({ type: 'bar', name: 'DA', xAxisIndex: gF, yAxisIndex: gF, barWidth: 22, barGap: '-100%', data: fDa.map((v, i) => [i, v + fLew[i]]), itemStyle: fBarStyle(DA_COLOR) })
addSeries({ type: 'bar', name: 'LEW', xAxisIndex: gF, yAxisIndex: gF, barWidth: 22, barGap: '-100%', data: fLew.map((v, i) => [i, v]), itemStyle: fBarStyle(LEW_COLOR) })
legends.push({
  data: ['DA', 'LEW'], orient: 'vertical', left: 740, top: 262, padding: 0, itemWidth: 9, itemHeight: 9, itemGap: 1,
  selectedMode: false, itemStyle: { borderColor: '#444', borderWidth: 0.9 }, textStyle: { fontSize: 7, color: '#333', fontFamily: HEAD }
})

// G: dot plot
function dotBlocks(row, pad) {
  let parts = row.split(' ')
  return dotBlockSizes.map((n, b) => {
    let s = parts[b] === '.' || parts[b] === undefined ? '' : parts[b]
    return s.padEnd(n, pad).slice(0, n)
  }).join('')
}
let dotData = []
dotRows.forEach((r, j) => {
  let pct = dotBlocks(dotPctRows[j], '0'), expr = dotBlocks(dotExprRows[j], '1')
  dotGenes.forEach((g, i) => dotData.push([i, j, +pct[i] * 11, exprLevels[+expr[i]]]))
})
let gG = addGrid({ left: 72.8, top: 515, width: 657.7, height: 192 }, {
  show: true, type: 'category', data: dotGenes, offset: 2,
  axisLine: { show: true, lineStyle: { color: AXIS_GREY, width: 1 } },
  axisTick: { show: true, alignWithLabel: true, length: 1.5, lineStyle: { color: AXIS_GREY, width: 0.5 } },
  axisLabel: { interval: 0, rotate: 45, fontSize: 5, color: '#444', fontFamily: HEAD, margin: 2 }
}, {
  show: true, type: 'category', data: dotRows, inverse: true,
  axisLine: { show: true, lineStyle: { color: AXIS_GREY, width: 1 } }, axisTick: { show: false },
  axisLabel: { interval: 0, fontSize: 6.3, color: '#222', fontFamily: FONT, margin: 4 }
})
let sG = addSeries({ type: 'scatter', xAxisIndex: gG, yAxisIndex: gG, data: dotData, symbolSize: v => dotSizes[Math.round(v[2] / 11)], itemStyle: { opacity: 1 } })
colorStrip(sG, 3, -1.3, 2.5, ['#d3d3d3', '#c4b5e8', '#a98cec', '#6a4cf5', '#0000ff'], 737, 623, 7, 34)
barTicks(745, 623, 34, -1.3, 2.5, [-1, 0, 1, 2], 5.5)

// G: brackets over the gene blocks
let gBr = addGrid({ left: 72.8, top: 500, width: 657.7, height: 5 }, { min: -0.5, max: 83.5 }, { min: 0, max: 1.7 })
let brLines = []
groupNames.forEach((n, i) => {
  let mid = (groupFrom[i] + groupTo[i]) / 2
  brLines.push([groupFrom[i], 0], [groupFrom[i], 1], [groupTo[i], 1], [groupTo[i], 0], ['-', '-'], [mid, 1], [mid, 1.6], ['-', '-'])
})
addSeries({ type: 'line', xAxisIndex: gBr, yAxisIndex: gBr, data: brLines, symbol: 'none', connectNulls: false, lineStyle: { color: '#222', width: 0.8 } })
addSeries({
  type: 'scatter', xAxisIndex: gBr, yAxisIndex: gBr, symbolSize: 0,
  data: groupNames.map((n, i) => ({ value: [(groupFrom[i] + groupTo[i]) / 2, 1.7], name: n })),
  label: { show: true, position: 'top', distance: 5, formatter: '{b}', fontSize: 8, color: '#222', fontFamily: FONT }
})

// G: percent legend
let gPct = addGrid({ left: 737, top: 574, width: 8, height: 35 }, { min: 0, max: 1 }, {
  show: true, type: 'category', data: pctLegend, inverse: true, position: 'right',
  axisLine: { show: false }, axisTick: { show: false },
  axisLabel: { interval: 0, fontSize: 5.5, color: '#444', fontFamily: HEAD, margin: 2 }
})
addSeries({ type: 'scatter', xAxisIndex: gPct, yAxisIndex: gPct, data: pctLegend.map((p, i) => [0.5, i]), symbolSize: (v, p) => dotSizes[pctLegendLevel[p.dataIndex]], itemStyle: solid('#000') })

// H: heatmap
let sH = addHeat({ left: 47.3, top: 776, width: 235.4, height: 200.7 }, hCols, hRows, hValues, 1, 6, 6.4)
addTree(hColTree, hCols.length, { left: 47.3, top: 776 - 38.3, width: 235.4, height: 38.3 }, false)
addTree(hRowTree, hRows.length, { left: 47.3 - 38, top: 776, width: 38, height: 200.7 }, true)
colorStrip(sH, 2, -0.46, 0.95, INFERNO, 10, 960.7, 5.7, 74.3)
barTicks(16.5, 960.7, 74.3, -0.46, 0.95, [-0.4, -0.2, 0, 0.2, 0.4, 0.6, 0.8], 5.5)

// I: heatmap
let sI = addHeat({ left: 392.7, top: 795, width: 333, height: 145 }, iCols, iRows, iValues, 0.01, 5.4, 5.2)
addTree(iColTree, iCols.length, { left: 392.7, top: 795 - 29, width: 333, height: 29 }, false)
addTree(iRowTree, iRows.length, { left: 392.7 - 27, top: 795, width: 27, height: 145 }, true)
colorStrip(sI, 2, -0.28, 0.69, INFERNO, 764.3, 945.7, 5, 77)
barTicks(769.8, 945.7, 77, -0.28, 0.69, [-0.2, 0, 0.2, 0.4, 0.6], 5.5)

let chart = echarts.init(document.getElementById('chart'), null, { renderer: 'canvas' })
chart.setOption({
  animation: false,
  backgroundColor: '#fff',
  textStyle: { fontFamily: FONT },
  title: titles,
  legend: legends,
  grid: grids,
  xAxis: xAxes,
  yAxis: yAxes,
  visualMap: visualMaps,
  series: series
})
</script>
</body>
</html>
